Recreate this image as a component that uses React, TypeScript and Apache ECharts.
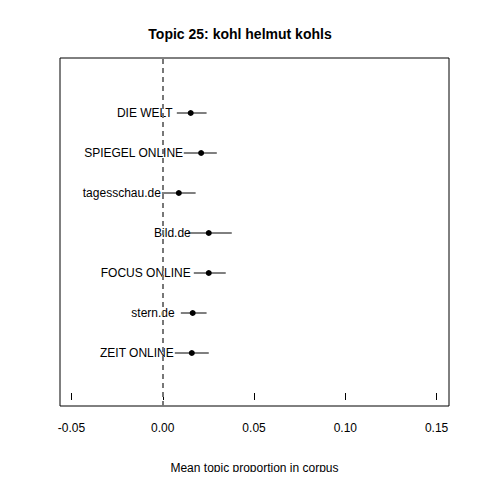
import { useEffect, useRef } from "react";
import * as echarts from "echarts";

const sources = ["DIE WELT", "SPIEGEL ONLINE", "tagesschau.de", "Bild.de", "FOCUS ONLINE", "stern.de", "ZEIT ONLINE"];
const means = [0.0153, 0.021, 0.0088, 0.0252, 0.0252, 0.0164, 0.0159];
const lower = [0.0077, 0.0115, -0.0005, 0.0137, 0.017, 0.0099, 0.0066];
const upper = [0.024, 0.0296, 0.018, 0.0378, 0.0345, 0.024, 0.0252];
const xTicks = [-0.05, 0, 0.05, 0.1, 0.15];

export default function App() {
  const chartRef = useRef<HTMLDivElement>(null);

  useEffect(() => {
    if (!chartRef.current) return;
    const chart = echarts.init(chartRef.current, null, { renderer: "svg" });
    const n = sources.length;
    const font = "Liberation Sans, Arial, sans-serif";

    chart.setOption({
      animation: false,
      textStyle: { fontFamily: font },
      title: {
        text: "Topic 25: kohl helmut kohls",
        left: "center",
        top: 22,
        textStyle: { fontSize: 14, fontWeight: "bold", color: "#000", fontFamily: font },
      },
      grid: { left: 60, right: 31, top: 58, bottom: 74, show: true, borderColor: "#000", borderWidth: 1 },
      xAxis: {
        type: "value",
        min: -0.0563,
        max: 0.1568,
        name: "Mean topic proportion in corpus",
        nameLocation: "middle",
        nameGap: 56,
        nameTextStyle: { fontSize: 12, color: "#000" },
        axisLine: { show: false },
        axisTick: { show: true, inside: false, length: 7, lineStyle: { color: "#000" }, customValues: xTicks },
        axisLabel: {
          fontSize: 12,
          color: "#000",
          margin: 16,
          customValues: xTicks,
          formatter: (v: number) => v.toFixed(2),
        },
        splitLine: { show: false },
      },
      yAxis: {
        type: "value",
        min: -0.325,
        max: 8.375,
        show: false,
      },
      series: [
        {
          type: "custom",
          renderItem: (_p: any, api: any) => {
            const a = api.coord([api.value(0), api.value(2)]);
            const b = api.coord([api.value(1), api.value(2)]);
            return {
              type: "line",
              shape: { x1: a[0], y1: a[1], x2: b[0], y2: b[1] },
              style: { stroke: "#000", lineWidth: 1 },
            };
          },
          data: sources.map((_, i) => [lower[i], upper[i], n - i]),
          encode: { x: [0, 1], y: 2 },
          silent: true,
          z: 1,
        },
        {
          type: "scatter",
          symbolSize: 6,
          itemStyle: { color: "#000", opacity: 1 },
          z: 3,
          data: sources.map((s, i) => ({ value: [means[i], n - i], name: s })),
          label: {
            show: true,
            position: "left",
            offset: [-10, 0],
            formatter: (p: any) => p.name,
            fontSize: 12,
            color: "#000",
            fontFamily: font,
          },
          markLine: {
            silent: true,
            symbol: "none",
            label: { show: false },
            lineStyle: { color: "#777", type: [5, 4], width: 2 },
            data: [{ xAxis: 0 }],
          },
        },
      ],
    });

    return () => chart.dispose();
  }, []);

  return <div ref={chartRef} style={{ width: 480, height: 480, margin: -8 }} />;
}
